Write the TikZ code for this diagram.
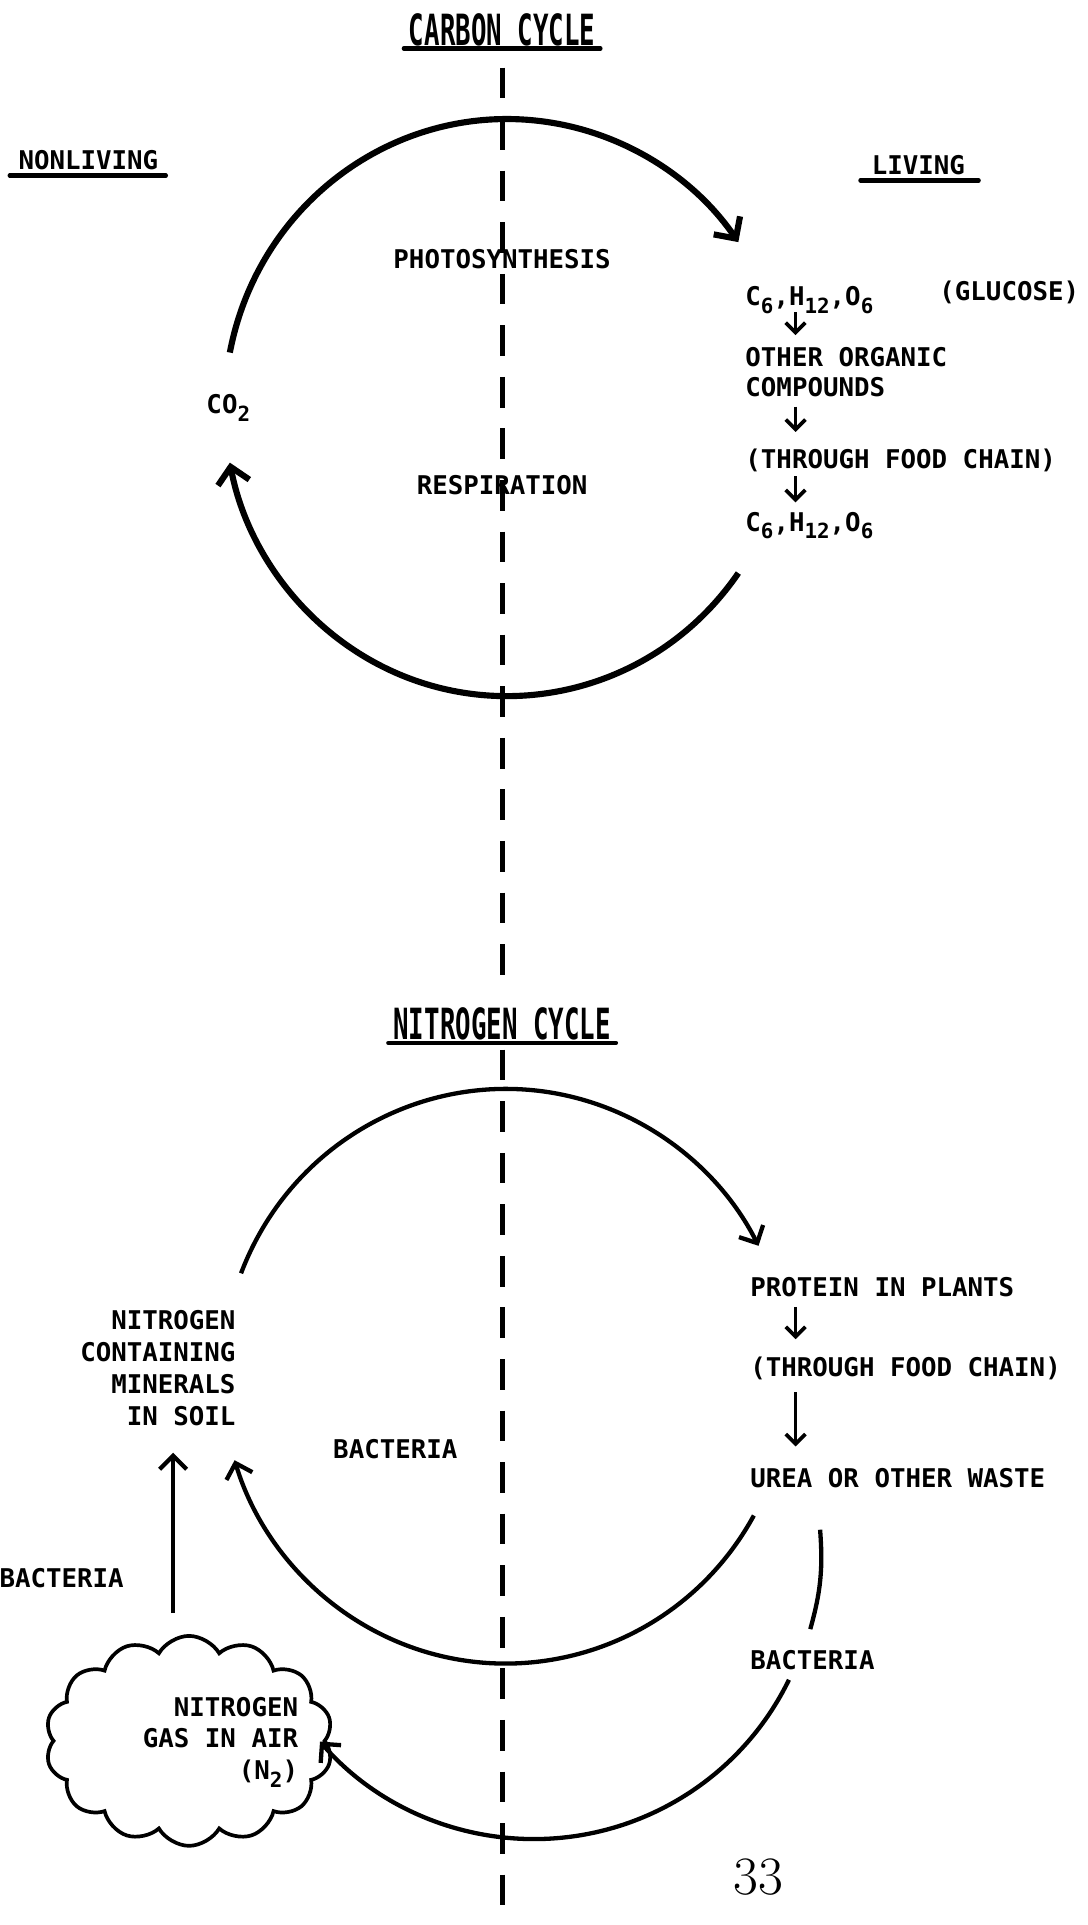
\documentclass[tikz,border=0pt]{standalone}
\usepackage{fontspec}
\usetikzlibrary{arrows.meta,shapes.symbols}
\newfontfamily\typefont{DejaVu Sans Mono Bold}[FakeStretch=1.0]
\newfontfamily\headfont{DejaVu Sans Mono Bold}[FakeStretch=0.6]
\newcommand{\chemsub}[1]{\raisebox{-6pt}{\fontsize{17}{17}\selectfont #1}}
\tikzset{
  typed/.style={inner sep=0pt, font=\typefont\fontsize{21}{26}\selectfont},
  heading/.style={inner sep=0pt, font=\headfont\fontsize{35}{36}\selectfont},
  uline/.style={line width=3.5pt, line cap=round},
  divider/.style={line width=4pt, dash pattern=on 25pt off 17pt},
  carbonarc/.style={line width=5pt, -{Straight Barb[length=13pt,width=26pt]}},
  nitroarc/.style={line width=3.5pt, -{Straight Barb[length=11pt,width=22pt]}},
  chainarrow/.style={line width=3pt, -{Straight Barb[length=8pt,width=16pt]}}
}

\begin{document}
\begin{tikzpicture}[x=1pt,y=1pt]
	\useasboundingbox (0,0) rectangle (886,-1568);
	\node[heading, anchor=base] (ctitle) at (409,-37) {CARBON CYCLE};
	\node[typed, anchor=base] (nonliving) at (72,-138) {NONLIVING};
	\node[typed, anchor=base] (living) at (748,-142) {LIVING};
	\draw[uline] ([xshift=-4pt,yshift=-2.5pt]ctitle.base west) -- ([xshift=4pt,yshift=-2.5pt]ctitle.base east);
	\draw[uline] ([xshift=-7pt,yshift=-5pt]nonliving.base west) -- ([xshift=6pt,yshift=-5pt]nonliving.base east);
	\draw[uline] ([xshift=-9pt,yshift=-5pt]living.base west) -- ([xshift=11pt,yshift=-5pt]living.base east);
	\coordinate (divtop) at (409,-55);
	\coordinate (divmid) at (409,-794);
	\coordinate (divlow) at (409,-855);
	\coordinate (divend) at (409,-1568);
	\draw[divider] (divtop) -- (divmid);
	\draw[divider] (divlow) -- (divend);
	\node[typed, anchor=base] (photo) at (409,-219) {PHOTOSYNTHESIS};
	\node[typed, anchor=base] (resp) at (409,-403) {RESPIRATION};
	\node[typed, anchor=base west] (co2) at (168,-337) {CO\chemsub{2}};
	\node[typed, anchor=base west] (gluc1) at (607,-249) {C\chemsub{6},H\chemsub{12},O\chemsub{6}};
	\node[typed, anchor=base west] (glucname) at (765,-245) {(GLUCOSE)};
	\node[typed, anchor=north west, align=left] (organic) at (607,-283) {OTHER ORGANIC\\[-2pt]COMPOUNDS};
	\node[typed, anchor=base west] (cfood) at (607,-382) {(THROUGH FOOD CHAIN)};
	\node[typed, anchor=base west] (gluc2) at (607,-433) {C\chemsub{6},H\chemsub{12},O\chemsub{6}};
	\coordinate (chainx) at (648,0);
	\draw[chainarrow] ([yshift=1pt]gluc1.south -| chainx) -- ([yshift=10pt]organic.north -| chainx);
	\draw[chainarrow] ([yshift=-8pt]organic.south -| chainx) -- ([yshift=14pt]cfood.north -| chainx);
	\draw[chainarrow] ([yshift=-3pt]cfood.south -| chainx) -- ([yshift=8pt]gluc2.north -| chainx);
	\coordinate (ccenter) at (413,-332);
	\coordinate (co2up) at ([shift={(169:230 and 235)}]ccenter);
	\coordinate (glucback) at ([shift={(-35:230 and 235)}]ccenter);
	\draw[carbonarc] (co2up) arc[start angle=169, end angle=35, x radius=230pt, y radius=235pt];
	\draw[carbonarc] (glucback) arc[start angle=-35, end angle=-169, x radius=230pt, y radius=235pt];
	\node[heading, anchor=base] (ntitle) at (409,-847) {NITROGEN CYCLE};
	\draw[uline] ([xshift=-4pt,yshift=-2.5pt]ntitle.base west) -- ([xshift=4pt,yshift=-2.5pt]ntitle.base east);
	\node[typed, anchor=base west] (protein) at (611,-1056) {PROTEIN IN PLANTS};
	\node[typed, anchor=base west] (nfood) at (611,-1121) {(THROUGH FOOD CHAIN)};
	\node[typed, anchor=base west] (urea) at (611,-1212) {UREA OR OTHER WASTE};
	\draw[chainarrow] ([yshift=-8pt]protein.south -| chainx) -- ([yshift=14pt]nfood.north -| chainx);
	\draw[chainarrow] ([yshift=-10pt]nfood.south -| chainx) -- ([yshift=18pt]urea.north -| chainx);
	\node[typed, anchor=north east, align=right] (minerals) at (192,-1067) {NITROGEN\\CONTAINING\\MINERALS\\IN SOIL};
	\node[typed, anchor=base] (nbact) at (322,-1188) {BACTERIA};
	\node[typed, anchor=base east] (fixbact) at (101,-1293) {BACTERIA};
	\node[typed, anchor=base west] (wastebact) at (611,-1360) {BACTERIA};
	\coordinate (ncenter) at (412,-1121);
	\coordinate (soilup) at ([shift={(159:231 and 234)}]ncenter);
	\coordinate (wasteback) at ([shift={(-29:231 and 234)}]ncenter);
	\draw[nitroarc] (soilup) arc[start angle=159, end angle=27, x radius=231pt, y radius=234pt];
	\draw[nitroarc] (wasteback) arc[start angle=-29, end angle=-163, x radius=231pt, y radius=234pt];
	\node[cloud, draw, line width=3pt, cloud puffs=14, cloud puff arc=120, cloud ignores aspect, minimum width=234pt, minimum height=171pt, inner sep=0pt] (airgas) at (154,-1418) {};
	\node[typed, anchor=north east, align=right] (airtext) at (243,-1382) {NITROGEN\\GAS IN AIR\\(N\chemsub{2})};
	\coordinate (fixx) at (141,0);
	\draw[nitroarc] ([yshift=17pt]airgas.north -| fixx) -- ([yshift=-22pt]minerals.south -| fixx);
	\coordinate (wastetop) at (668,-1246);
	\coordinate (wastemid) at (660,-1327);
	\draw[line width=3.5pt] (wastetop) to[bend left=10] (wastemid);
	\coordinate (acenter) at (435,-1267);
	\coordinate (bactdown) at ([shift={(-26:231)}]acenter);
	\draw[nitroarc] (bactdown) arc[start angle=-26, end angle=-139, radius=231pt];
	\node[anchor=base, inner sep=0pt, font=\fontsize{44}{44}\selectfont] (pagenum) at (618,-1543) {33};
\end{tikzpicture}
\end{document}
